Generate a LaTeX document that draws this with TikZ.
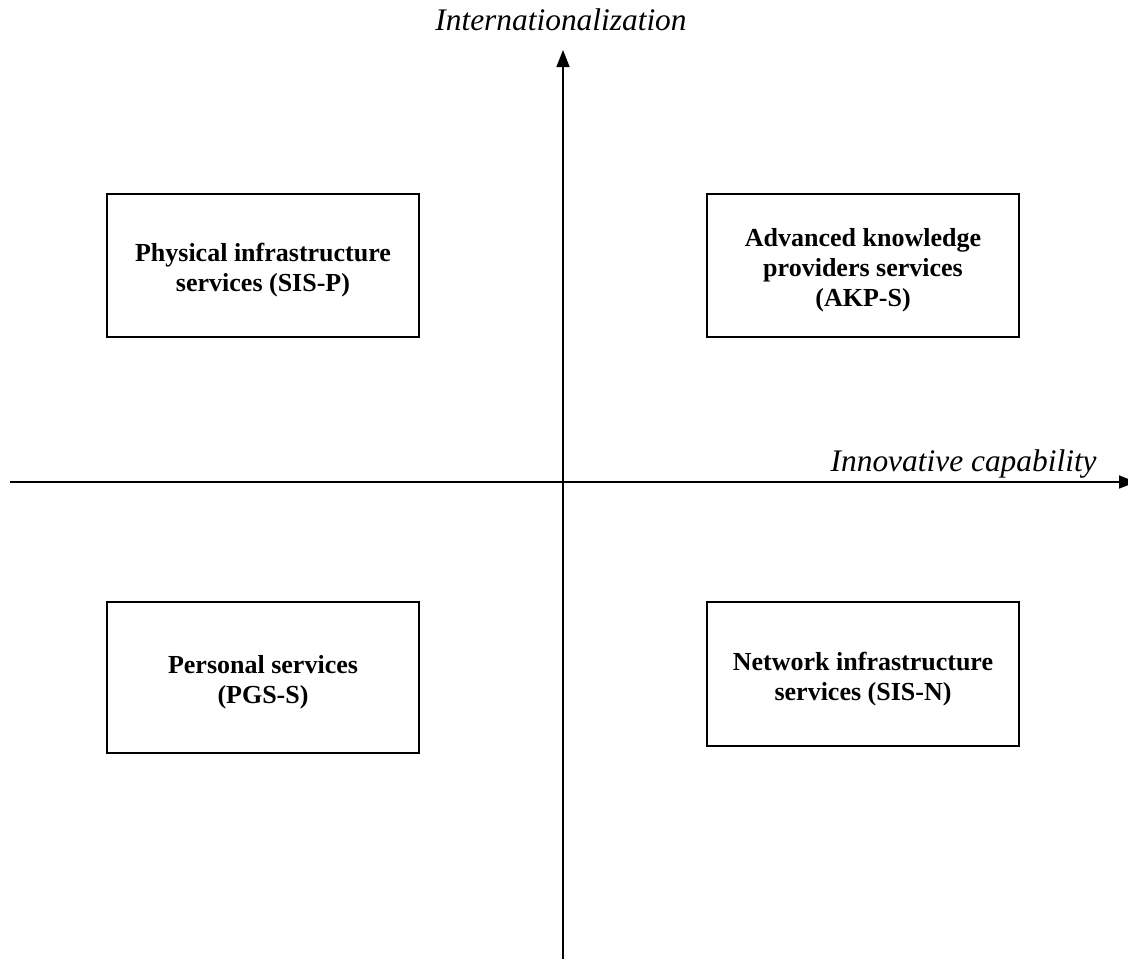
\documentclass[tikz,border=0pt]{standalone}
\usepackage{fontspec}
\setmainfont{Liberation Serif}
\usetikzlibrary{positioning, arrows.meta}

\newcommand{\topstrut}{\rule{0pt}{14pt}}

\begin{document}
\begin{tikzpicture}[x=0.5pt, y=-0.5pt, >={Triangle[length=8.5pt, width=6.5pt]},
    quadrant/.style={draw, line width=1pt, minimum width=156pt, align=center,
        font=\fontsize{13}{15}\selectfont\bfseries, inner sep=0pt},
    axislabel/.style={font=\fontsize{15.7}{18}\selectfont\itshape, inner sep=0pt}]

\useasboundingbox (0,0) rectangle (1128,959);

% Axis end points
\coordinate (xstart) at (10,482);
\coordinate (xend) at (1136,482);
\coordinate (ystart) at (563,959);
\coordinate (yend) at (563,50);

% Axes
\draw[->, line width=0.8pt] (xstart) -- (xend);
\draw[->, line width=0.8pt] (ystart) -- (yend);

% Axis labels
\node[axislabel, anchor=base] (ylabel) at (561,30) {Internationalization};
\node[axislabel, anchor=base east] (xlabel) at (1097,471) {Innovative capability};

% Quadrants
\node[quadrant, minimum height=71.5pt] (sisp) at (263,265.5) {\topstrut Physical infrastructure\\services (SIS-P)};
\node[quadrant, minimum height=71.5pt] (akps) at (863,265.5) {\topstrut Advanced knowledge\\providers services\\(AKP-S)};
\node[quadrant, minimum height=75.5pt] (pgss) at (263,677.5) {\topstrut Personal services\\(PGS-S)};
\node[quadrant, minimum height=72pt] (sisn) at (863,674) {\topstrut Network infrastructure\\services (SIS-N)};

\end{tikzpicture}
\end{document}
